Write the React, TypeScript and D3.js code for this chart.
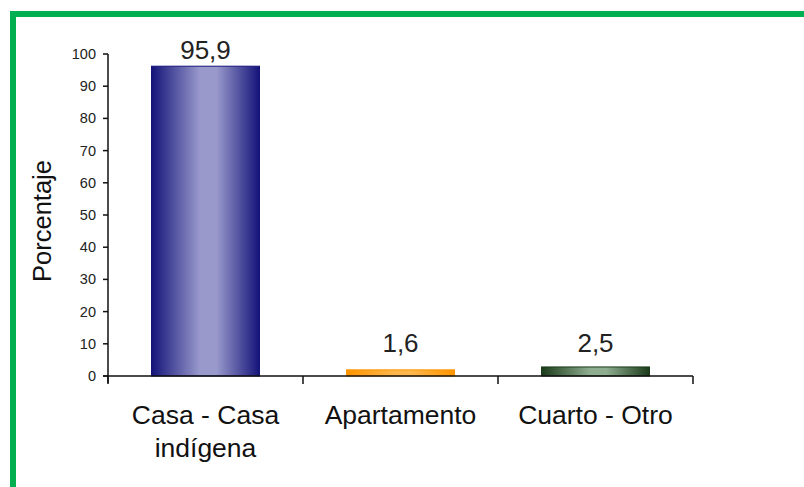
import React from "react";
import * as d3 from "d3";

const categories = ["Casa - Casa|indígena", "Apartamento", "Cuarto - Otro"];
const values = [95.9, 1.6, 2.5];
const valueLabels = ["95,9", "1,6", "2,5"];
const yTicks = [0, 10, 20, 30, 40, 50, 60, 70, 80, 90, 100];
const gradients = [
  { edge: "#14147a", mid: "#9999cc" },
  { edge: "#ff9500", mid: "#ffb84d" },
  { edge: "#1a3a1a", mid: "#8fae8f" },
];

export default function App() {
  const W = 804, H = 487;
  const x0 = 108, x1 = 693, yTop = 54, yBot = 376;
  const x = d3.scaleBand<number>().domain(d3.range(categories.length)).range([x0, x1]);
  const bandW = x.bandwidth();
  const y = d3.scaleLinear().domain([0, 100]).range([yBot, yTop]);
  const font = "Liberation Sans, Arial, sans-serif";
  const barW = 108;
  return (
    <svg width={W} height={H} style={{ position: "absolute", left: 0, top: 0 }}>
      <defs>
        {gradients.map((g, i) => (
          <linearGradient key={i} id={`g${i}`} x1="0" x2="1" y1="0" y2="0">
            <stop offset="0" stopColor={g.edge} />
            <stop offset="0.45" stopColor={g.mid} />
            <stop offset="0.6" stopColor={g.mid} />
            <stop offset="1" stopColor={g.edge} />
          </linearGradient>
        ))}
      </defs>
      <rect x={0} y={0} width={W} height={H} fill="#fff" />
      <rect x={10} y={11} width={W - 10} height={6} fill="#00b050" />
      <rect x={10} y={11} width={6} height={H - 11} fill="#00b050" />
      {values.map((v, i) => {
        const cx = (x(i) as number) + bandW / 2;
        const top = y(v);
        return (
          <g key={i}>
            <rect x={cx - barW / 2} y={top - 1} width={barW} height={Math.max(yBot - top + 1, 4)} fill={`url(#g${i})`} stroke={gradients[i].edge} strokeWidth={1} />
            <text x={cx} y={Math.min(top - 8, yBot - 24)} textAnchor="middle" fontFamily={font} fontSize={26} fill="#222">{valueLabels[i]}</text>
          </g>
        );
      })}
      <line x1={x0} x2={x0} y1={yTop} y2={yBot + 7} stroke="#111" strokeWidth={1.5} />
      <line x1={x0 - 5} x2={x1} y1={yBot} y2={yBot} stroke="#111" strokeWidth={1.5} />
      {yTicks.map((t) => (
        <g key={t}>
          <line x1={x0 - 5} x2={x0} y1={y(t)} y2={y(t)} stroke="#111" strokeWidth={1.5} />
          <text x={x0 - 12} y={y(t) + 5} textAnchor="end" fontFamily={font} fontSize={14.5} fill="#222">{t}</text>
        </g>
      ))}
      {d3.range(categories.length + 1).map((i) => (
        <line key={i} x1={x0 + bandW * i} x2={x0 + bandW * i} y1={yBot} y2={yBot + 8} stroke="#111" strokeWidth={1.5} />
      ))}
      {categories.map((c, i) => {
        const cx = (x(i) as number) + bandW / 2;
        return (
          <text key={i} textAnchor="middle" fontFamily={font} fontSize={26.5} fill="#111">
            {c.split("|").map((l, j) => (
              <tspan key={j} x={cx} y={424 + j * 33}>{l}</tspan>
            ))}
          </text>
        );
      })}
      <text transform="translate(51,221) rotate(-90)" textAnchor="middle" fontFamily={font} fontSize={25.5} fill="#111">Porcentaje</text>
    </svg>
  );
}
